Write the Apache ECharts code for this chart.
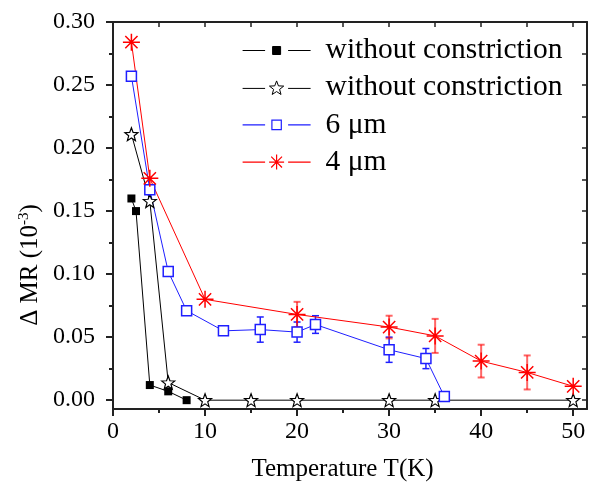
<!DOCTYPE html>
<html>
<head>
<meta charset="utf-8">
<script src="https://cdn.jsdelivr.net/npm/echarts@6/dist/echarts.min.js"></script>
<style>html,body{margin:0;padding:0;background:#fff}#chart{width:589px;height:483px}</style>
</head>
<body>
<div id="chart"></div>
<script>
// ---- data ----
const seriesNames = ['without constriction', 'without constriction\u200b', '6 \u03bcm', '4 \u03bcm'];
const T_filled = [2, 2.5, 4, 6, 8];
const V_filled = [0.160, 0.150, 0.012, 0.007, 0.000];
const T_star = [2, 4, 6, 10, 15, 20, 30, 35, 50];
const V_star = [0.211, 0.158, 0.014, 0, 0, 0, 0, 0, 0];
const T_6um = [2, 4, 6, 8, 12, 16, 20, 22, 30, 34, 36];
const V_6um = [0.257, 0.167, 0.102, 0.071, 0.055, 0.056, 0.054, 0.060, 0.040, 0.033, 0.003];
const E_6um = [0, 0, 0, 0, 0, 0.010, 0.008, 0.007, 0.010, 0.008, 0];
const T_4um = [2, 4, 10, 20, 30, 35, 40, 45, 50];
const V_4um = [0.284, 0.176, 0.080, 0.068, 0.058, 0.051, 0.031, 0.022, 0.011];
const E_4um = [0, 0, 0, 0.010, 0.009, 0.0135, 0.013, 0.0135, 0];
const xTickLabels = [0, 10, 20, 30, 40, 50];
const xMinorTicks = [5, 15, 25, 35, 45];
const xTopTicks = [5, 10, 15, 20, 25, 30, 35, 40, 45, 50];
const yTickLabels = [0, 0.05, 0.10, 0.15, 0.20, 0.25, 0.30];
const yMinorTicks = [0.025, 0.075, 0.125, 0.175, 0.225, 0.275];
const yRightTicks = [0, 0.025, 0.05, 0.075, 0.10, 0.125, 0.15, 0.175, 0.20, 0.225, 0.25, 0.275];
const xName = 'Temperature T(K)';
const yNameMain = '\u0394 MR (10';
const yNameSup = '-3';

// ---- helpers ----
const FONT = 'Liberation Serif';
function pairs(xs, ys) { return xs.map((x, i) => [x, ys[i]]); }
function errData(xs, ys, es) {
  const out = [];
  xs.forEach((x, i) => { if (es[i] > 0) out.push([x, ys[i], es[i]]); });
  return out;
}
function f(n) { return n.toFixed(3); }
function starPts(cx, cy, r) {
  const p = [];
  for (let i = 0; i < 10; i++) {
    const rr = i % 2 ? 0.42 * r : r;
    const a = -Math.PI / 2 + i * Math.PI / 5;
    p.push(f(cx + rr * Math.cos(a)) + ',' + f(cy + rr * Math.sin(a)));
  }
  return 'M' + p.join('L') + 'Z';
}
function squarePts(cx, cy, h) {
  return 'M' + f(cx - h) + ',' + f(cy - h) + 'L' + f(cx + h) + ',' + f(cy - h) +
         'L' + f(cx + h) + ',' + f(cy + h) + 'L' + f(cx - h) + ',' + f(cy + h) + 'Z';
}
function asteriskPts(cx, cy, r) {
  const d = r * 0.72;
  return 'M' + f(cx) + ',' + f(cy - r) + 'L' + f(cx) + ',' + f(cy + r) +
         'M' + f(cx - r) + ',' + f(cy) + 'L' + f(cx + r) + ',' + f(cy) +
         'M' + f(cx - d) + ',' + f(cy - d) + 'L' + f(cx + d) + ',' + f(cy + d) +
         'M' + f(cx - d) + ',' + f(cy + d) + 'L' + f(cx + d) + ',' + f(cy - d);
}
const STAR = 'path://' + starPts(0, 0, 1);
const ASTERISK = 'path://' + asteriskPts(0, 0, 1);
// legend icon: line - gap - symbol - gap - line (68 px wide)
const LEG_LINES = 'M0,0L22.5,0M45.5,0L68,0';
function legendIcon(sym) { return 'path://' + LEG_LINES + sym; }

function errRender(color, lw) {
  return function (params, api) {
    const x = api.value(0), y = api.value(1), e = api.value(2);
    const t = api.coord([x, y + e]), b = api.coord([x, y - e]);
    const hw = 3.5;
    const st = { stroke: color, lineWidth: lw };
    return { type: 'group', children: [
      { type: 'line', shape: { x1: t[0], y1: t[1], x2: b[0], y2: b[1] }, style: st },
      { type: 'line', shape: { x1: t[0] - hw, y1: t[1], x2: t[0] + hw, y2: t[1] }, style: st },
      { type: 'line', shape: { x1: b[0] - hw, y1: b[1], x2: b[0] + hw, y2: b[1] }, style: st }
    ]};
  };
}
const axisLineStyle = { color: '#222', width: 2 };
const XMIN = 0, XMAX = 51.5, YMIN = -0.007, YMAX = 0.30;
const BLUE = '#1f1fff', RED = '#ff0000';

const chart = echarts.init(document.getElementById('chart'), null, { renderer: 'canvas' });
chart.setOption({
  animation: false,
  backgroundColor: '#fff',
  grid: { left: 113, right: 2, top: 22, bottom: 74, containLabel: false, outerBoundsMode: 'none' },
  xAxis: [
    { type: 'value', position: 'bottom', min: XMIN, max: XMAX,
      axisLine: { show: true, onZero: false, lineStyle: axisLineStyle },
      axisTick: { show: true, inside: false, length: 7, customValues: xTickLabels, lineStyle: { color: '#222', width: 2 } },
      axisLabel: { show: true, customValues: xTickLabels, margin: 11, fontFamily: FONT, fontSize: 24, color: '#000', formatter: v => String(v) },
      splitLine: { show: false },
      name: xName, nameLocation: 'middle', nameGap: 48, nameMoveOverlap: false,
      nameTextStyle: { fontFamily: FONT, fontSize: 25, color: '#000', padding: [0, 15, 0, 0] } },
    { type: 'value', position: 'bottom', min: XMIN, max: XMAX,
      axisLine: { show: false, onZero: false },
      axisTick: { show: true, inside: false, length: 4, customValues: xMinorTicks, lineStyle: { color: '#222', width: 2 } },
      axisLabel: { show: false }, splitLine: { show: false } },
    { type: 'value', position: 'top', min: XMIN, max: XMAX,
      axisLine: { show: true, onZero: false, lineStyle: axisLineStyle },
      axisTick: { show: true, inside: true, length: 5, customValues: xTopTicks, lineStyle: { color: '#222', width: 1.5 } },
      axisLabel: { show: false }, splitLine: { show: false } }
  ],
  yAxis: [
    { type: 'value', position: 'left', min: YMIN, max: YMAX,
      axisLine: { show: true, onZero: false, lineStyle: axisLineStyle },
      axisTick: { show: true, inside: false, length: 7, customValues: yTickLabels, lineStyle: { color: '#222', width: 2 } },
      axisLabel: { show: true, customValues: yTickLabels, margin: 18, fontFamily: FONT, fontSize: 24, color: '#000', formatter: v => v.toFixed(2) },
      splitLine: { show: false } },
    { type: 'value', position: 'left', min: YMIN, max: YMAX,
      axisLine: { show: false, onZero: false },
      axisTick: { show: true, inside: false, length: 4, customValues: yMinorTicks, lineStyle: { color: '#222', width: 2 } },
      axisLabel: { show: false }, splitLine: { show: false } },
    { type: 'value', position: 'right', min: YMIN, max: YMAX,
      axisLine: { show: true, onZero: false, lineStyle: axisLineStyle },
      axisTick: { show: true, inside: true, length: 5, customValues: yRightTicks, lineStyle: { color: '#222', width: 1.5 } },
      axisLabel: { show: false }, splitLine: { show: false } }
  ],
  legend: {
    show: true, orient: 'vertical', left: 242, top: 35.5, padding: 0,
    itemWidth: 68, itemHeight: 16, itemGap: 7.2, symbolKeepAspect: true,
    textStyle: { fontFamily: FONT, fontSize: 29.5, color: '#000', lineHeight: 30, padding: [0, 0, 0, 10] },
    selectedMode: false,
    data: [
      { name: seriesNames[0], icon: legendIcon(squarePts(34, 0, 4)),
        itemStyle: { color: '#000', borderColor: '#000', borderWidth: 1 } },
      { name: seriesNames[1], icon: legendIcon(starPts(34, 0, 7.5)),
        itemStyle: { color: '#fff', borderColor: '#000', borderWidth: 1 } },
      { name: seriesNames[2], icon: legendIcon(squarePts(34, 0, 4.7)),
        itemStyle: { color: '#fff', borderColor: BLUE, borderWidth: 1.2 } },
      { name: seriesNames[3], icon: legendIcon(asteriskPts(34, 0, 7.5)),
        itemStyle: { color: 'rgba(0,0,0,0)', borderColor: RED, borderWidth: 1.2 } }
    ]
  },
  graphic: [{
    type: 'text', x: 30, y: 265, rotation: Math.PI / 2,
    style: {
      text: yNameMain + '{sup|' + yNameSup + '})', fontFamily: FONT, fontSize: 25, fill: '#000',
      align: 'center', verticalAlign: 'middle',
      rich: { sup: { fontFamily: FONT, fontSize: 15, fill: '#000', verticalAlign: 'top', lineHeight: 26 } }
    }
  }],
  series: [
    { type: 'custom', name: 'err6', coordinateSystem: 'cartesian2d', xAxisIndex: 0, yAxisIndex: 0,
      data: errData(T_6um, V_6um, E_6um), renderItem: errRender(BLUE, 1.5), z: 1 },
    { type: 'custom', name: 'err4', coordinateSystem: 'cartesian2d', xAxisIndex: 0, yAxisIndex: 0,
      data: errData(T_4um, V_4um, E_4um), renderItem: errRender('rgba(255,0,0,0.6)', 2), z: 1 },
    { type: 'line', name: seriesNames[0], data: pairs(T_filled, V_filled), xAxisIndex: 0, yAxisIndex: 0,
      symbol: 'rect', symbolSize: 8, showAllSymbol: true,
      lineStyle: { color: '#000', width: 1 }, itemStyle: { color: '#000' } },
    { type: 'line', name: seriesNames[1], data: pairs(T_star, V_star), xAxisIndex: 0, yAxisIndex: 0,
      symbol: STAR, symbolSize: 13, showAllSymbol: true,
      lineStyle: { color: '#000', width: 1 }, itemStyle: { color: '#fff', borderColor: '#000', borderWidth: 1.2 } },
    { type: 'line', name: seriesNames[2], data: pairs(T_6um, V_6um), xAxisIndex: 0, yAxisIndex: 0,
      symbol: 'rect', symbolSize: 10, showAllSymbol: true,
      lineStyle: { color: BLUE, width: 1 }, itemStyle: { color: '#fff', borderColor: BLUE, borderWidth: 1.5 } },
    { type: 'line', name: seriesNames[3], data: pairs(T_4um, V_4um), xAxisIndex: 0, yAxisIndex: 0,
      symbol: ASTERISK, symbolSize: 17, showAllSymbol: true,
      lineStyle: { color: RED, width: 1 }, itemStyle: { color: 'rgba(0,0,0,0)', borderColor: RED, borderWidth: 1.5 } }
  ]
});
</script>
</body>
</html>
